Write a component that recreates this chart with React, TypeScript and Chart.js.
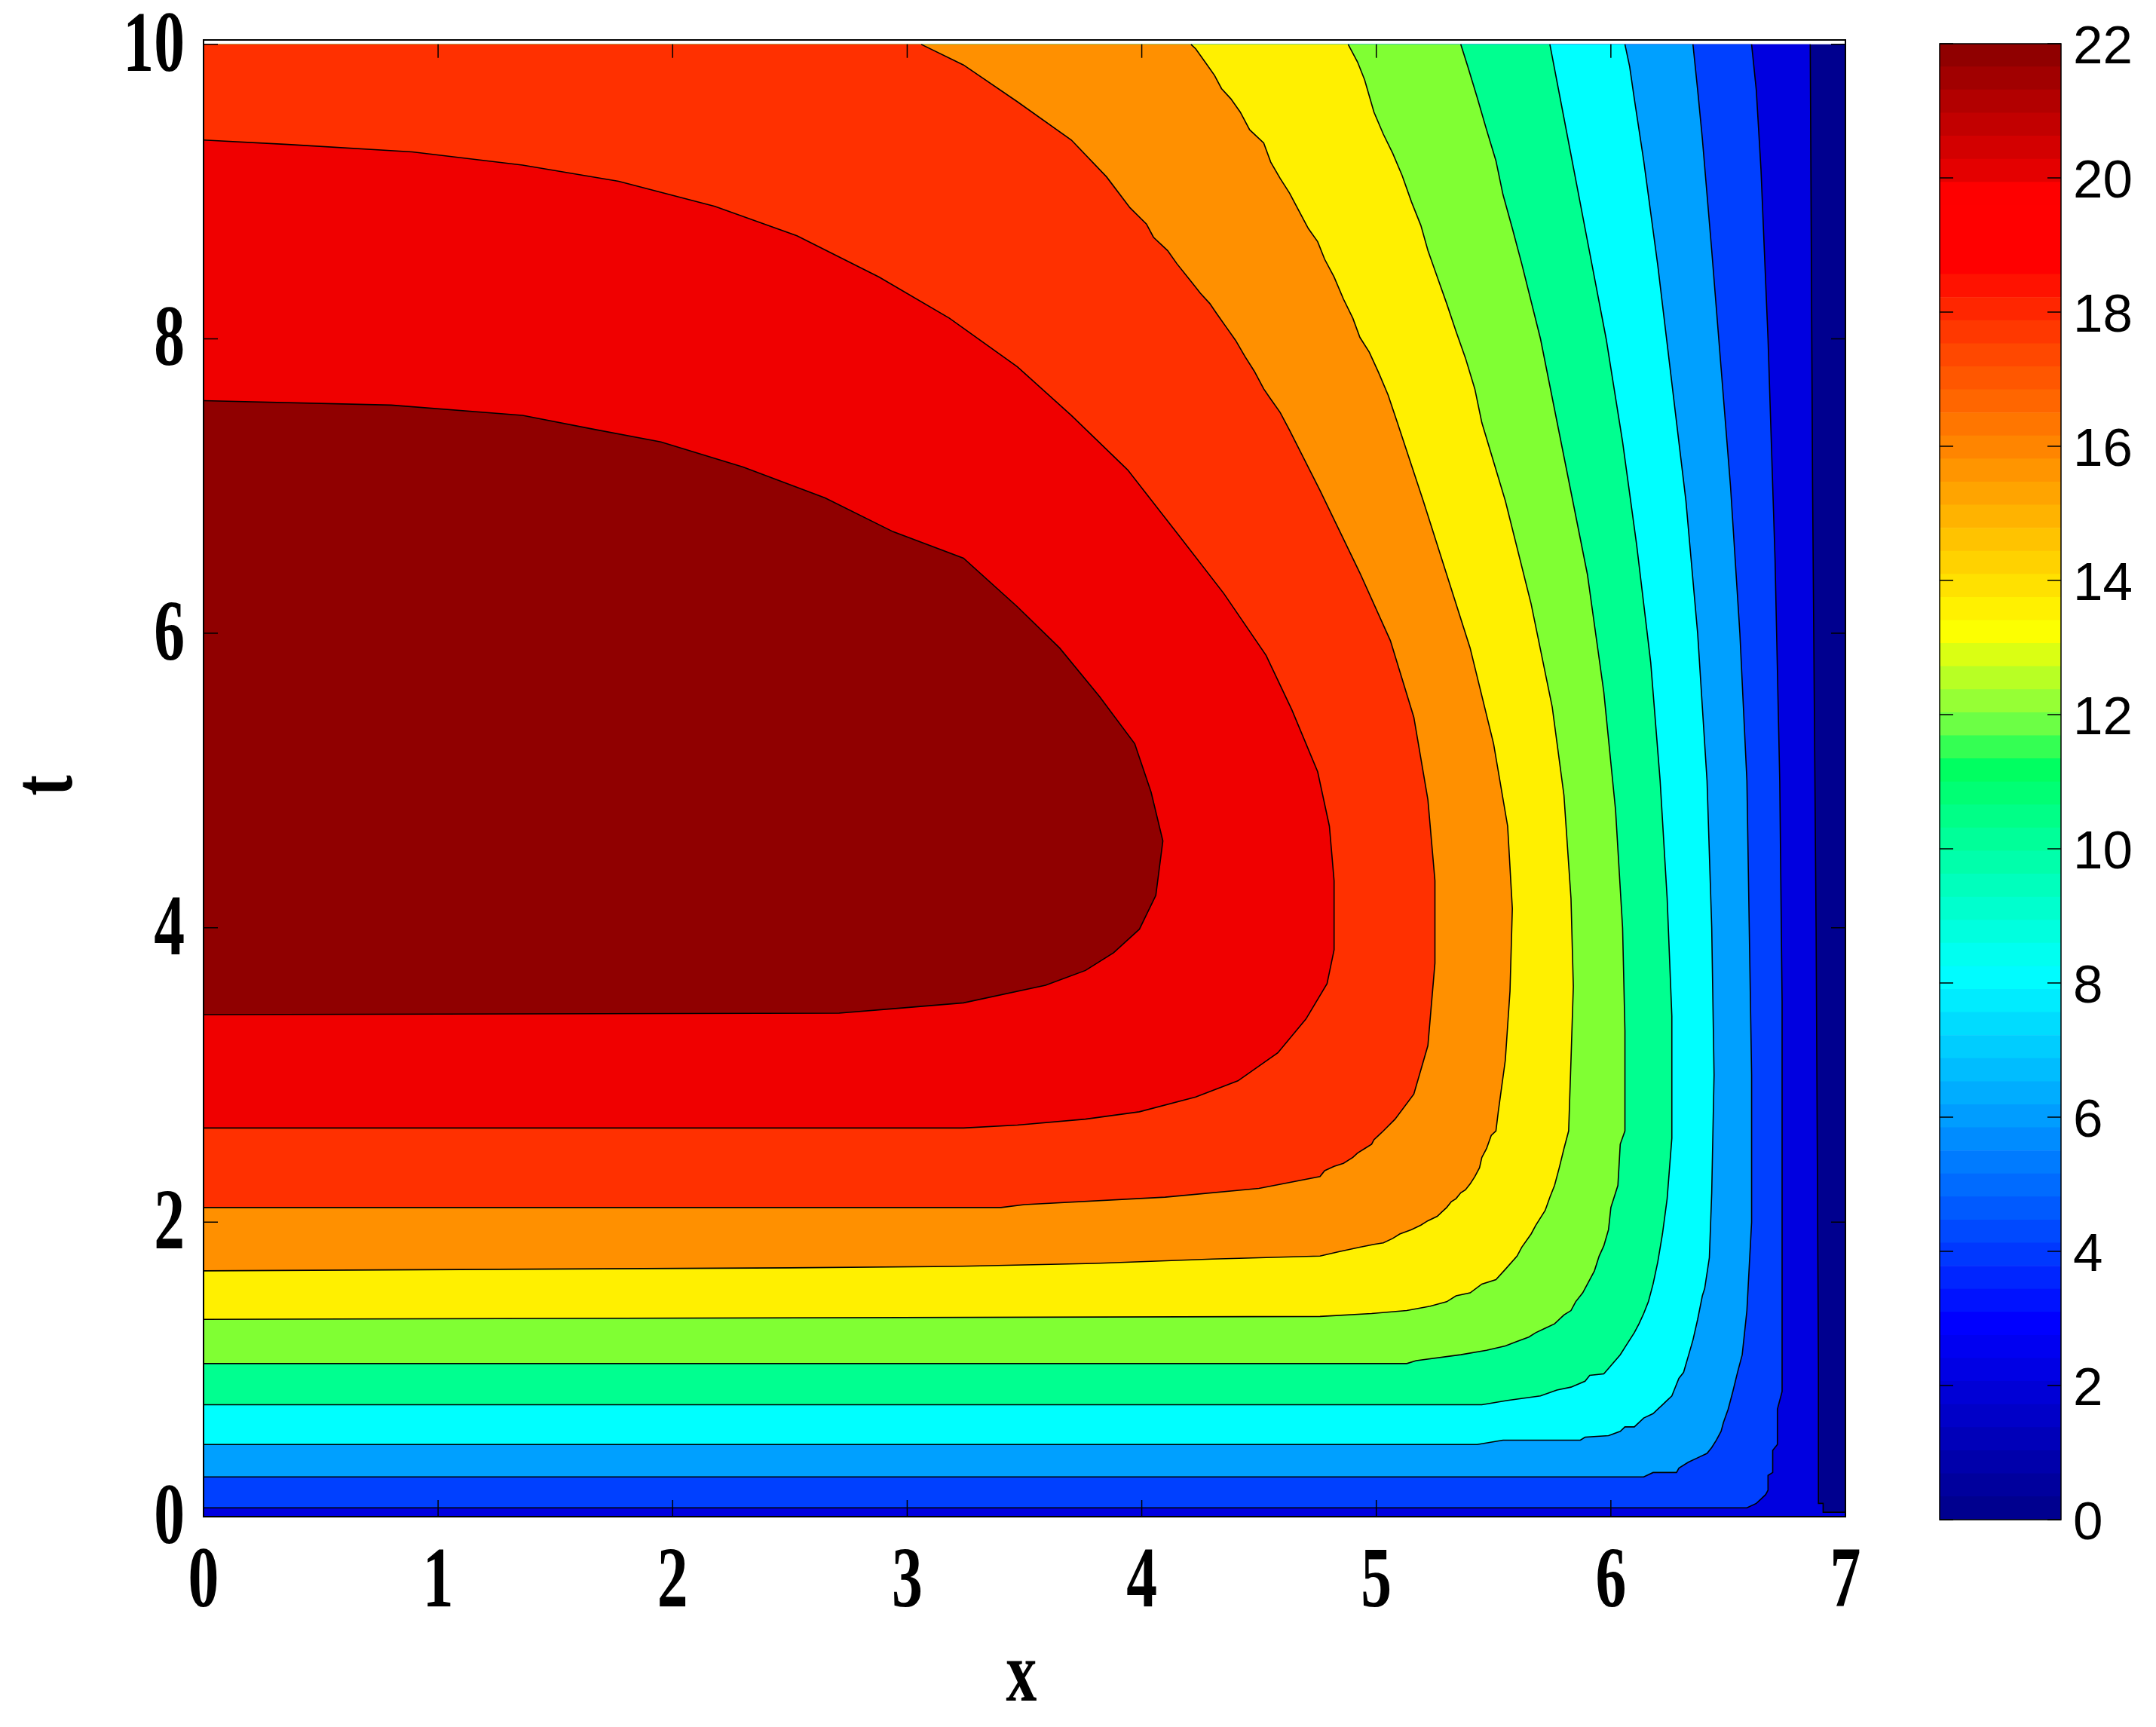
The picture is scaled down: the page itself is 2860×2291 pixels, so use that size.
import React, { useEffect, useRef } from 'react';
import { Chart, registerables } from 'chart.js';

Chart.register(...registerables);

const W = 2860;
const H = 2291;

// ---- axes ----
const xTicks = [0, 1, 2, 3, 4, 5, 6, 7];
const yTicks = [0, 2, 4, 6, 8, 10];
const cbTicks = [0, 2, 4, 6, 8, 10, 12, 14, 16, 18, 20, 22];
const xLabel = 'x';
const yLabel = 't';

// ---- contour levels and fill colours (band above each level) ----
const levels = [2, 4, 6, 8, 10, 12, 14, 16, 18, 20, 22];
const baseColor = '#00008f';
const bandColors = ['#0000e0', '#0040ff', '#00a0ff', '#00ffff', '#00ff90', '#80ff33', '#fff000', '#ff9000', '#ff3000', '#f00000', '#900000'];

// ---- contour lines, [x, t] ----
const contour2: [number, number][] = [[6.85, 10], [6.86, 7], [6.875, 4], [6.885, 1.0], [6.885, 0.09], [6.905, 0.09], [6.905, 0.03], [7, 0.03]];
const contour4: [number, number][] = [[6.60, 10], [6.62, 9.69], [6.64, 9.15], [6.67, 8.0], [6.70, 6.5], [6.72, 5.0], [6.73, 3.5], [6.73, 0.85], [6.71, 0.73], [6.71, 0.49], [6.69, 0.45], [6.69, 0.30], [6.67, 0.28], [6.67, 0.18], [6.66, 0.15], [6.64, 0.12], [6.62, 0.09], [6.58, 0.06], [0, 0.06]];
const contour6: [number, number][] = [[6.35, 10], [6.37, 9.69], [6.39, 9.36], [6.43, 8.6], [6.47, 7.8], [6.51, 7.0], [6.55, 6.0], [6.58, 5.0], [6.59, 4.0], [6.60, 3.0], [6.60, 2.0], [6.58, 1.4], [6.56, 1.1], [6.54, 0.98], [6.52, 0.85], [6.50, 0.73], [6.48, 0.64], [6.47, 0.58], [6.45, 0.52], [6.43, 0.47], [6.41, 0.43], [6.37, 0.40], [6.33, 0.37], [6.29, 0.33], [6.28, 0.30], [6.18, 0.30], [6.14, 0.27], [0, 0.27]];
const contour8: [number, number][] = [[6.06, 10], [6.08, 9.85], [6.10, 9.63], [6.12, 9.42], [6.14, 9.21], [6.20, 8.5], [6.26, 7.7], [6.32, 6.9], [6.37, 6.0], [6.41, 5.0], [6.43, 4.0], [6.44, 3.0], [6.43, 2.2], [6.42, 1.76], [6.40, 1.55], [6.39, 1.50], [6.37, 1.34], [6.35, 1.20], [6.33, 1.09], [6.31, 0.98], [6.29, 0.94], [6.27, 0.86], [6.26, 0.82], [6.24, 0.79], [6.22, 0.76], [6.20, 0.73], [6.18, 0.70], [6.14, 0.67], [6.10, 0.61], [6.06, 0.61], [6.04, 0.58], [5.99, 0.55], [5.89, 0.54], [5.87, 0.52], [5.54, 0.52], [5.43, 0.49], [0, 0.49]];
const contour10: [number, number][] = [[5.74, 10], [5.80, 9.5], [5.86, 9.0], [5.92, 8.5], [5.98, 8.0], [6.05, 7.3], [6.11, 6.6], [6.17, 5.8], [6.21, 5.0], [6.24, 4.2], [6.26, 3.4], [6.26, 2.57], [6.24, 2.16], [6.22, 1.92], [6.20, 1.73], [6.18, 1.58], [6.16, 1.46], [6.14, 1.38], [6.12, 1.31], [6.10, 1.25], [6.06, 1.15], [6.04, 1.10], [5.97, 0.97], [5.91, 0.96], [5.89, 0.92], [5.83, 0.88], [5.77, 0.86], [5.70, 0.82], [5.56, 0.79], [5.45, 0.76], [0, 0.76]];
const contour12: [number, number][] = [[5.36, 10], [5.39, 9.85], [5.43, 9.64], [5.47, 9.42], [5.51, 9.21], [5.54, 8.98], [5.58, 8.75], [5.62, 8.51], [5.70, 8.0], [5.80, 7.2], [5.90, 6.4], [5.97, 5.6], [6.02, 4.8], [6.05, 4.0], [6.06, 3.3], [6.06, 2.62], [6.04, 2.53], [6.03, 2.25], [6.00, 2.10], [5.99, 1.95], [5.97, 1.84], [5.95, 1.77], [5.93, 1.67], [5.91, 1.61], [5.88, 1.52], [5.85, 1.46], [5.83, 1.40], [5.80, 1.37], [5.76, 1.31], [5.72, 1.28], [5.68, 1.25], [5.65, 1.22], [5.60, 1.19], [5.55, 1.16], [5.47, 1.13], [5.36, 1.10], [5.17, 1.06], [5.13, 1.04], [0, 1.04]];
const contour14: [number, number][] = [[4.88, 10], [4.92, 9.88], [4.95, 9.76], [4.99, 9.54], [5.03, 9.39], [5.07, 9.26], [5.11, 9.11], [5.15, 8.93], [5.19, 8.77], [5.22, 8.60], [5.26, 8.42], [5.30, 8.24], [5.34, 8.05], [5.38, 7.87], [5.42, 7.66], [5.45, 7.43], [5.55, 6.9], [5.66, 6.2], [5.75, 5.5], [5.80, 4.9], [5.83, 4.2], [5.84, 3.6], [5.83, 3.1], [5.82, 2.62], [5.80, 2.50], [5.78, 2.37], [5.76, 2.25], [5.74, 2.17], [5.72, 2.08], [5.68, 1.98], [5.66, 1.92], [5.62, 1.83], [5.60, 1.77], [5.55, 1.68], [5.51, 1.61], [5.45, 1.58], [5.40, 1.52], [5.34, 1.50], [5.30, 1.46], [5.23, 1.43], [5.13, 1.40], [4.98, 1.38], [4.76, 1.36], [0, 1.34]];
const contour16: [number, number][] = [[4.21, 10], [4.23, 9.97], [4.27, 9.88], [4.31, 9.79], [4.34, 9.70], [4.38, 9.63], [4.42, 9.54], [4.46, 9.42], [4.52, 9.33], [4.55, 9.20], [4.59, 9.09], [4.63, 8.99], [4.67, 8.87], [4.71, 8.75], [4.75, 8.66], [4.78, 8.54], [4.82, 8.42], [4.86, 8.27], [4.90, 8.14], [4.93, 8.01], [4.97, 7.91], [5.01, 7.77], [5.05, 7.62], [5.09, 7.43], [5.20, 6.9], [5.30, 6.4], [5.40, 5.9], [5.50, 5.25], [5.56, 4.69], [5.58, 4.13], [5.57, 3.57], [5.55, 3.10], [5.52, 2.75], [5.51, 2.62], [5.49, 2.59], [5.47, 2.50], [5.45, 2.44], [5.44, 2.37], [5.42, 2.31], [5.40, 2.26], [5.38, 2.22], [5.36, 2.20], [5.34, 2.16], [5.32, 2.14], [5.30, 2.10], [5.28, 2.07], [5.26, 2.04], [5.22, 2.01], [5.19, 1.98], [5.15, 1.95], [5.10, 1.92], [5.07, 1.89], [5.03, 1.86], [4.99, 1.85], [4.93, 1.83], [4.84, 1.80], [4.76, 1.77], [4.3, 1.75], [3.8, 1.72], [3.2, 1.70], [2.5, 1.69], [0, 1.67]];
const contour18: [number, number][] = [[3.06, 10], [3.24, 9.86], [3.47, 9.61], [3.70, 9.35], [3.85, 9.1], [3.95, 8.89], [4.02, 8.78], [4.05, 8.69], [4.11, 8.60], [4.15, 8.51], [4.21, 8.39], [4.25, 8.31], [4.29, 8.24], [4.32, 8.17], [4.36, 8.08], [4.40, 7.99], [4.44, 7.88], [4.48, 7.78], [4.52, 7.66], [4.55, 7.59], [4.59, 7.50], [4.63, 7.38], [4.76, 6.97], [4.93, 6.41], [5.06, 5.95], [5.16, 5.43], [5.22, 4.87], [5.25, 4.32], [5.25, 3.76], [5.22, 3.20], [5.16, 2.87], [5.08, 2.70], [5.03, 2.62], [5.01, 2.59], [4.99, 2.56], [4.98, 2.53], [4.95, 2.50], [4.92, 2.47], [4.90, 2.44], [4.86, 2.40], [4.82, 2.38], [4.78, 2.35], [4.76, 2.31], [4.5, 2.23], [4.1, 2.17], [3.5, 2.12], [3.4, 2.10], [0, 2.10]];
const contour20: [number, number][] = [[0, 9.35], [0.36, 9.32], [0.89, 9.27], [1.36, 9.18], [1.77, 9.07], [2.18, 8.90], [2.53, 8.70], [2.88, 8.42], [3.18, 8.14], [3.47, 7.81], [3.70, 7.48], [3.94, 7.11], [4.17, 6.64], [4.35, 6.27], [4.53, 5.85], [4.64, 5.48], [4.75, 5.06], [4.80, 4.69], [4.82, 4.32], [4.82, 3.85], [4.79, 3.62], [4.70, 3.38], [4.58, 3.15], [4.41, 2.96], [4.23, 2.85], [3.99, 2.75], [3.76, 2.70], [3.47, 2.66], [3.24, 2.64], [0, 2.64]];
const contour22: [number, number][] = [[0, 7.58], [0.80, 7.55], [1.36, 7.48], [1.65, 7.39], [1.95, 7.30], [2.30, 7.13], [2.65, 6.92], [2.94, 6.69], [3.24, 6.51], [3.47, 6.18], [3.65, 5.90], [3.82, 5.57], [3.97, 5.25], [4.04, 4.92], [4.09, 4.59], [4.06, 4.22], [3.99, 3.99], [3.88, 3.83], [3.76, 3.71], [3.59, 3.61], [3.24, 3.49], [2.94, 3.45], [2.71, 3.42], [0, 3.41]];

const contours = [contour2, contour4, contour6, contour8, contour10, contour12, contour14, contour16, contour18, contour20, contour22];

// ---- colour bar colormap anchors ----
const cmapValues = [0, 2, 2.8, 4, 6, 8.1, 10, 11.2, 12, 13.3, 14, 16, 18, 18.8, 19.9, 20, 22];
const cmapColors: [number, number, number][] = [[0, 0, 143], [0, 0, 224], [0, 0, 255], [0, 64, 255], [0, 160, 255], [0, 255, 255], [0, 255, 160], [0, 255, 96], [128, 255, 64], [255, 255, 0], [255, 224, 0], [255, 136, 0], [255, 48, 0], [255, 0, 0], [255, 0, 0], [240, 0, 0], [144, 0, 0]];
const cbSteps = 64;
const cbMax = 22;

function cmap(v: number): string {
  for (let i = 0; i < cmapValues.length - 1; i++) {
    if (v <= cmapValues[i + 1]) {
      const f = (v - cmapValues[i]) / (cmapValues[i + 1] - cmapValues[i]);
      const a = cmapColors[i], b = cmapColors[i + 1];
      const c = a.map((av, k) => Math.round(av + (b[k] - av) * f));
      return `rgb(${c[0]},${c[1]},${c[2]})`;
    }
  }
  const c = cmapColors[cmapColors.length - 1];
  return `rgb(${c[0]},${c[1]},${c[2]})`;
}

const SERIF = "bold 115px 'Liberation Serif', 'Times New Roman', serif";
const SQUEEZE = 0.71;

function squeezedText(ctx: CanvasRenderingContext2D, text: string, x: number, y: number, align: CanvasTextAlign, rotate = 0) {
  ctx.save();
  ctx.translate(x, y);
  if (rotate) ctx.rotate(rotate);
  ctx.scale(SQUEEZE, 1);
  ctx.font = SERIF;
  ctx.fillStyle = '#000';
  ctx.textAlign = align;
  ctx.textBaseline = 'alphabetic';
  ctx.fillText(text, 0, 0);
  ctx.restore();
}

const axesPlugin = {
  id: 'axesPlugin',
  afterDraw(chart: any) {
    const ctx: CanvasRenderingContext2D = chart.ctx;
    const { left, right, top, bottom } = chart.chartArea;
    const xs = chart.scales.x;
    const ys = chart.scales.y;
    ctx.save();
    ctx.strokeStyle = '#000';
    ctx.lineWidth = 2;
    ctx.strokeRect(left, top, right - left, bottom - top);
    ctx.lineWidth = 1.5;
    const yTop = ys.getPixelForValue(10);
    ctx.beginPath();
    for (const v of xTicks) {
      const px = xs.getPixelForValue(v);
      ctx.moveTo(px, bottom);
      ctx.lineTo(px, bottom - 22);
      ctx.moveTo(px, yTop);
      ctx.lineTo(px, yTop + 18);
    }
    for (const v of yTicks) {
      const py = ys.getPixelForValue(v);
      ctx.moveTo(left, py);
      ctx.lineTo(left + 19, py);
      ctx.moveTo(right, py);
      ctx.lineTo(right - 19, py);
    }
    ctx.stroke();
    ctx.restore();

    for (const v of xTicks) {
      squeezedText(ctx, String(v), xs.getPixelForValue(v), bottom + 119, 'center');
    }
    for (const v of yTicks) {
      squeezedText(ctx, String(v), left - 25, ys.getPixelForValue(v) + 35, 'right');
    }
    squeezedText(ctx, xLabel, (left + right) / 2 - 4, 2256, 'center');
    squeezedText(ctx, yLabel, 95, 1042, 'center', -Math.PI / 2);
  },
};

const colorbarPlugin = {
  id: 'colorbarPlugin',
  afterDraw(chart: any) {
    const ctx: CanvasRenderingContext2D = chart.ctx;
    const { left, right, top, bottom } = chart.chartArea;
    const ys = chart.scales.y;
    ctx.save();
    ctx.strokeStyle = '#000';
    ctx.lineWidth = 1.5;
    ctx.strokeRect(left, top, right - left, bottom - top);
    ctx.beginPath();
    for (const v of cbTicks) {
      const py = ys.getPixelForValue(v);
      ctx.moveTo(left, py);
      ctx.lineTo(left + 18, py);
      ctx.moveTo(right, py);
      ctx.lineTo(right - 18, py);
    }
    ctx.stroke();
    ctx.font = "71px 'Liberation Sans', Arial, sans-serif";
    ctx.fillStyle = '#000';
    ctx.textAlign = 'left';
    ctx.textBaseline = 'alphabetic';
    for (const v of cbTicks) {
      ctx.fillText(String(v), right + 16, ys.getPixelForValue(v) + 25.5);
    }
    ctx.restore();
  },
};

function toPts(arr: [number, number][]) {
  return arr.map(([x, y]) => ({ x, y }));
}

export default function App() {
  const mainRef = useRef<HTMLCanvasElement>(null);
  const cbRef = useRef<HTMLCanvasElement>(null);

  useEffect(() => {
    const datasets: any[] = [];
    datasets.push({
      data: toPts([[0, 0], [7, 0], [7, 10], [0, 10]]),
      backgroundColor: baseColor,
      fill: 'shape',
      borderWidth: 0,
      pointRadius: 0,
      order: 1000,
    });
    contours.forEach((c, i) => {
      const poly: [number, number][] = [];
      if (c[0][1] >= 10) poly.push([0, 10]);
      poly.push(...c);
      if (c[c.length - 1][0] >= 7) poly.push([7, 0], [0, 0]);
      datasets.push({
        data: toPts(poly),
        backgroundColor: bandColors[i],
        fill: 'shape',
        borderWidth: 0,
        pointRadius: 0,
        order: 999 - i,
      });
    });
    contours.forEach((c, i) => {
      datasets.push({
        label: 'level ' + levels[i],
        data: toPts(c),
        borderColor: '#000',
        borderWidth: 1.6,
        fill: false,
        pointRadius: 0,
        order: 0,
      });
    });

    const main = new Chart(mainRef.current!, {
      type: 'line',
      data: { datasets },
      options: {
        responsive: false,
        animation: false,
        devicePixelRatio: 1,
        layout: { padding: { left: 270, top: 53, right: W - 2448, bottom: H - 2012 } },
        elements: { line: { tension: 0 }, point: { radius: 0 } },
        plugins: { legend: { display: false }, tooltip: { enabled: false } },
        scales: {
          x: { type: 'linear', min: 0, max: 7, display: false },
          y: { type: 'linear', min: 0, max: 10.03, display: false },
        },
      } as any,
      plugins: [axesPlugin],
    });

    const step = cbMax / cbSteps;
    const cbDatasets = Array.from({ length: cbSteps }, (_, i) => ({
      data: [step],
      backgroundColor: cmap((i / (cbSteps - 1)) * cbMax),
      borderWidth: 0,
      barPercentage: 1,
      categoryPercentage: 1,
      stack: 'cb',
    }));
    const cb = new Chart(cbRef.current!, {
      type: 'bar',
      data: { labels: [''], datasets: cbDatasets },
      options: {
        responsive: false,
        animation: false,
        devicePixelRatio: 1,
        layout: { padding: { left: 2573, right: W - 2734, top: 58, bottom: H - 2016 } },
        plugins: { legend: { display: false }, tooltip: { enabled: false } },
        scales: {
          x: { display: false, stacked: true },
          y: { display: false, stacked: true, min: 0, max: cbMax },
        },
      } as any,
      plugins: [colorbarPlugin],
    });

    return () => {
      main.destroy();
      cb.destroy();
    };
  }, []);

  return (
    <div style={{ position: 'absolute', left: 0, top: 0, width: W, height: H, background: '#fff', overflow: 'hidden' }}>
      <canvas ref={mainRef} width={W} height={H} style={{ position: 'absolute', left: 0, top: 0 }} />
      <canvas ref={cbRef} width={W} height={H} style={{ position: 'absolute', left: 0, top: 0 }} />
    </div>
  );
}
